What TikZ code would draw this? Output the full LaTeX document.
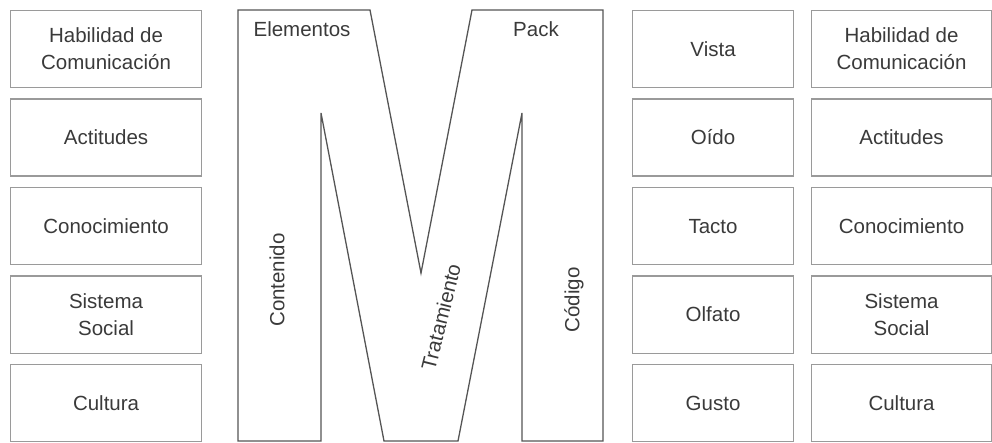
\documentclass[tikz,border=0pt]{standalone}
\usepackage{fontspec}
\setmainfont{Liberation Sans}
\definecolor{txt}{HTML}{3A3A3A}
\definecolor{boxline}{HTML}{9A9A9A}
\definecolor{mline}{HTML}{555555}
\begin{document}
\begin{tikzpicture}[x=1pt,y=-1pt,
  cell/.style={draw=boxline,line width=1.1pt,minimum width=191pt,minimum height=77pt,
    align=center,inner sep=0pt,text=txt,font=\fontsize{20.5}{27}\selectfont,anchor=north west},
  cellr/.style={cell,minimum width=161pt},
  cellrr/.style={cell,minimum width=180pt},
  lbl/.style={text=txt,font=\fontsize{20.5}{27}\selectfont,inner sep=0pt}]
\useasboundingbox (0,0) rectangle (992,443);
% left column
\node[cell] (l1) at (10,10) {Habilidad de\\Comunicación};
\node[cell] (l2) at (10,98.5) {Actitudes};
\node[cell] (l3) at (10,187) {Conocimiento};
\node[cell] (l4) at (10,275.5) {Sistema\\Social};
\node[cell] (l5) at (10,364) {Cultura};
% senses column
\node[cellr] (s1) at (632,10) {Vista};
\node[cellr] (s2) at (632,98.5) {Oído};
\node[cellr] (s3) at (632,187) {Tacto};
\node[cellr] (s4) at (632,275.5) {Olfato};
\node[cellr] (s5) at (632,364) {Gusto};
% right column
\node[cellrr] (r1) at (811,10) {Habilidad de\\Comunicación};
\node[cellrr] (r2) at (811,98.5) {Actitudes};
\node[cellrr] (r3) at (811,187) {Conocimiento};
\node[cellrr] (r4) at (811,275.5) {Sistema\\Social};
\node[cellrr] (r5) at (811,364) {Cultura};
% the M
\draw[mline,line width=1.3pt,line join=miter]
  (238,10) -- (370,10) -- (421,273) -- (472,10) -- (603,10) -- (603,441)
  -- (522,441) -- (522,113) -- (458,441) -- (384,441) -- (321,113)
  -- (321,441) -- (238,441) -- cycle;
\node[lbl] (el) at (302,29) {Elementos};
\node[lbl] (pk) at (536,29) {Pack};
\node[lbl,rotate=90] (co) at (277,280) {Contenido};
\node[lbl,rotate=76] (tr) at (441,317) {Tratamiento};
\node[lbl,rotate=90] (cd) at (574,300) {Código};
\end{tikzpicture}
\end{document}
